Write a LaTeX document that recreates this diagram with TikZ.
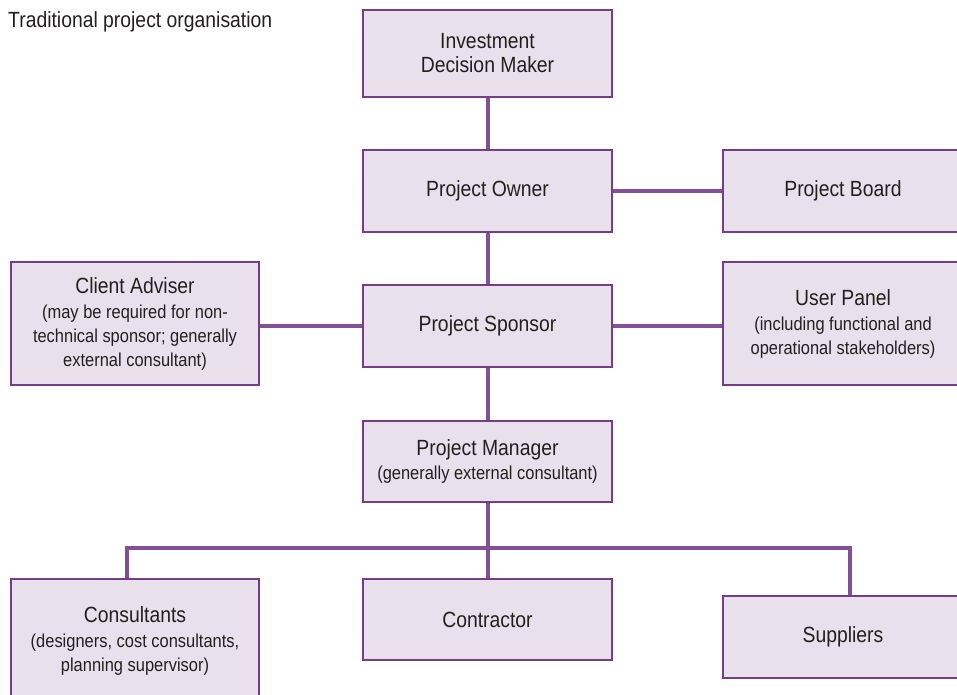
\documentclass[tikz,border=0pt]{standalone}
\usepackage{fontspec}
\setmainfont{Liberation Sans}[FakeStretch=0.88]
\definecolor{boxfill}{RGB}{232,225,235}
\definecolor{boxline}{RGB}{118,60,135}
\definecolor{conline}{RGB}{130,80,148}
\definecolor{txt}{RGB}{35,31,32}
\newcommand\mainsz{\fontsize{22}{24}\selectfont}
\newcommand\subsz{\fontsize{18.7}{21.5}\selectfont}
\begin{document}
\begin{tikzpicture}[x=1pt,y=-1pt,
  orgbox/.style={draw=boxline, fill=boxfill, line width=2pt, align=center,
    text=txt, inner sep=0pt, font=\mainsz},
  conn/.style={draw=conline, line width=4pt}]
\useasboundingbox (0,0) rectangle (957,694);
\node[anchor=west, text=txt, font=\mainsz, inner sep=0pt] (title) at (8,22) {Traditional project organisation};
% boxes
\node[orgbox, minimum width=249, minimum height=87] (idm) at (487.5,53.5) {Investment\\Decision Maker};
\node[orgbox, minimum width=249, minimum height=82] (owner) at (487.5,191) {Project Owner};
\node[orgbox, minimum width=240, minimum height=82] (board) at (843,191) {Project Board};
\node[orgbox, minimum width=248, minimum height=123] (adviser) at (135,323.5)
  {Client Adviser\\[1pt]\subsz (may be required for non-\\\subsz technical sponsor; generally\\\subsz external consultant)};
\node[orgbox, minimum width=249, minimum height=82] (sponsor) at (487.5,326) {Project Sponsor};
\node[orgbox, minimum width=240, minimum height=123] (panel) at (843,323.5)
  {User Panel\\[1pt]\subsz (including functional and\\\subsz operational stakeholders)};
\node[orgbox, minimum width=249, minimum height=81] (manager) at (487.5,461.5)
  {Project Manager\\\subsz (generally external consultant)};
\node[orgbox, minimum width=248, minimum height=124] (consult) at (135,641)
  {Consultants\\[1pt]\subsz (designers, cost consultants,\\\subsz planning supervisor)};
\node[orgbox, minimum width=249, minimum height=81] (contractor) at (487.5,619.5) {Contractor};
\node[orgbox, minimum width=240, minimum height=82] (suppliers) at (843,637) {Suppliers};
% connectors
\coordinate (busL) at (127,548);
\coordinate (busR) at (850,548);
\draw[conn] (idm.south) -- (owner.north);
\draw[conn] (owner.east) -- (board.west);
\draw[conn] (owner.south) -- (sponsor.north);
\draw[conn] (sponsor.west) -- (sponsor.west -| adviser.east);
\draw[conn] (sponsor.east) -- (panel.west |- sponsor.east);
\draw[conn] (sponsor.south) -- (manager.north);
\draw[conn] (manager.south) -- (contractor.north);
\draw[conn, line cap=rect] (busL) -- (busR);
\draw[conn] (busL) -- (busL |- consult.north);
\draw[conn] (busR) -- (busR |- suppliers.north);
\end{tikzpicture}
\end{document}
